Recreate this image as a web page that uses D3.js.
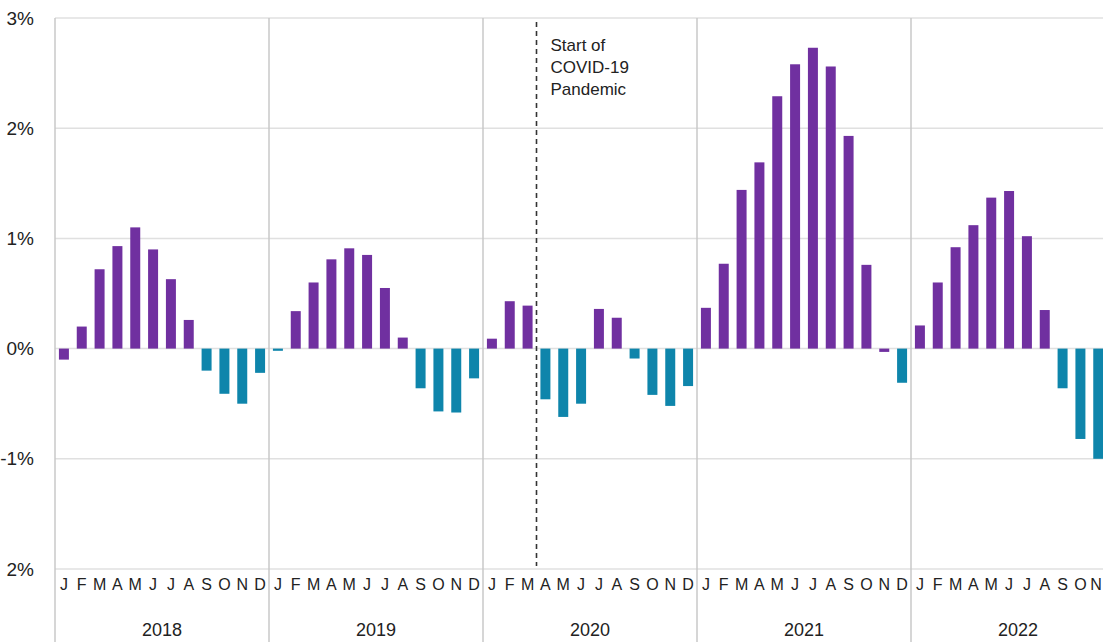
<!DOCTYPE html>
<html>
<head>
<meta charset="utf-8">
<script src="https://cdn.jsdelivr.net/npm/d3@7"></script>
<style>
  html, body { margin: 0; padding: 0; background: #fff; overflow: hidden; }
  svg { display: block; }
  text { font-family: "Liberation Sans", Arial, sans-serif; fill: #222; }
</style>
</head>
<body>
<svg id="chart" width="1103" height="642"></svg>
<script>
// ---- data ----
const years = ["2018", "2019", "2020", "2021", "2022"];
const monthLetters = ["J","F","M","A","M","J","J","A","S","O","N","D"];
const values2018 = [-0.10, 0.20, 0.72, 0.93, 1.10, 0.90, 0.63, 0.26, -0.20, -0.41, -0.50, -0.22];
const values2019 = [-0.02, 0.34, 0.60, 0.81, 0.91, 0.85, 0.55, 0.10, -0.36, -0.57, -0.58, -0.27];
const values2020 = [0.09, 0.43, 0.39, -0.46, -0.62, -0.50, 0.36, 0.28, -0.09, -0.42, -0.52, -0.34];
const values2021 = [0.37, 0.77, 1.44, 1.69, 2.29, 2.58, 2.73, 2.56, 1.93, 0.76, -0.03, -0.31];
const values2022 = [0.21, 0.60, 0.92, 1.12, 1.37, 1.43, 1.02, 0.35, -0.36, -0.82, -1.00];
// group of each bar (as coloured in the source): "up" purple, "down" blue
const groups2018 = ["up","up","up","up","up","up","up","up","down","down","down","down"];
const groups2019 = ["down","up","up","up","up","up","up","up","down","down","down","down"];
const groups2020 = ["up","up","up","down","down","down","up","up","down","down","down","down"];
const groups2021 = ["up","up","up","up","up","up","up","up","up","up","up","down"];
const groups2022 = ["up","up","up","up","up","up","up","up","down","down","down"];
const yTicks = [3, 2, 1, 0, -1, -2];
const yTickLabels = ["3%", "2%", "1%", "0%", "-1%", "2%"];
const covidIndex = 27; // boundary between Mar and Apr 2020
const annotation = ["Start of", "COVID-19", "Pandemic"];

// ---- build rows ----
const allValues = [values2018, values2019, values2020, values2021, values2022];
const allGroups = [groups2018, groups2019, groups2020, groups2021, groups2022];
const rows = [];
allValues.forEach((vals, yi) => {
  vals.forEach((v, mi) => {
    rows.push({ idx: yi * 12 + mi, year: years[yi], month: mi, value: v, group: allGroups[yi][mi] });
  });
});
const totalMonths = years.length * 12;
const shownMonths = rows.length;

// ---- layout ----
const W = 1103;
const svg = d3.select("#chart");
const plotLeft = 55, plotRight = 1125, plotTop = 18, plotBottom = 569;

const x = d3.scaleBand().domain(d3.range(totalMonths)).range([plotLeft, plotRight]).paddingInner(0.44).paddingOuter(0.22);
const xLin = d3.scaleLinear().domain([0, totalMonths]).range([plotLeft, plotRight]);
const y = d3.scaleLinear().domain([-2, 3]).range([plotBottom, plotTop]);
const color = d3.scaleOrdinal().domain(["up", "down"]).range(["#7030a0", "#0e85ab"]);

// horizontal gridlines
svg.append("g").selectAll("line").data(yTicks).join("line")
  .attr("x1", plotLeft).attr("x2", W)
  .attr("y1", d => y(d)).attr("y2", d => y(d))
  .attr("stroke", "#e0e0e0").attr("stroke-width", 1.5);

// y axis labels
svg.append("g").selectAll("text").data(yTicks).join("text")
  .attr("x", 34).attr("y", d => y(d)).attr("dy", "0.35em")
  .attr("text-anchor", "end").attr("font-size", 19)
  .text((d, i) => yTickLabels[i]);

// year separators
svg.append("g").selectAll("line").data(d3.range(years.length)).join("line")
  .attr("x1", d => xLin(d * 12)).attr("x2", d => xLin(d * 12))
  .attr("y1", plotTop).attr("y2", 642)
  .attr("stroke", "#c8c8c8").attr("stroke-width", 1.5);

// bars
svg.append("g").selectAll("rect").data(rows).join("rect")
  .attr("x", d => x(d.idx))
  .attr("width", x.bandwidth())
  .attr("y", d => Math.min(y(d.value), y(0)))
  .attr("height", d => Math.max(1.5, Math.abs(y(d.value) - y(0))))
  .attr("fill", d => color(d.group));

// month letters (only months with data)
svg.append("g").selectAll("text").data(d3.range(shownMonths)).join("text")
  .attr("x", d => Math.min(x(d) + x.bandwidth() / 2, W - 7))
  .attr("y", 584).attr("dy", "0.35em")
  .attr("text-anchor", "middle").attr("font-size", 16)
  .text(d => monthLetters[d % 12]);

// year labels
svg.append("g").selectAll("text").data(years).join("text")
  .attr("x", (d, i) => xLin(i * 12 + 6))
  .attr("y", 630).attr("dy", "0.35em")
  .attr("text-anchor", "middle").attr("font-size", 18)
  .text(d => d);

// covid line
const cx = xLin(covidIndex);
svg.append("line")
  .attr("x1", cx).attr("x2", cx).attr("y1", 22).attr("y2", 566)
  .attr("stroke", "#333").attr("stroke-width", 1.6).attr("stroke-dasharray", "5,4");

svg.append("g").selectAll("text").data(annotation).join("text")
  .attr("x", cx + 14).attr("y", (d, i) => 45 + i * 22).attr("dy", "0.35em")
  .attr("font-size", 17)
  .text(d => d);
</script>
</body>
</html>
